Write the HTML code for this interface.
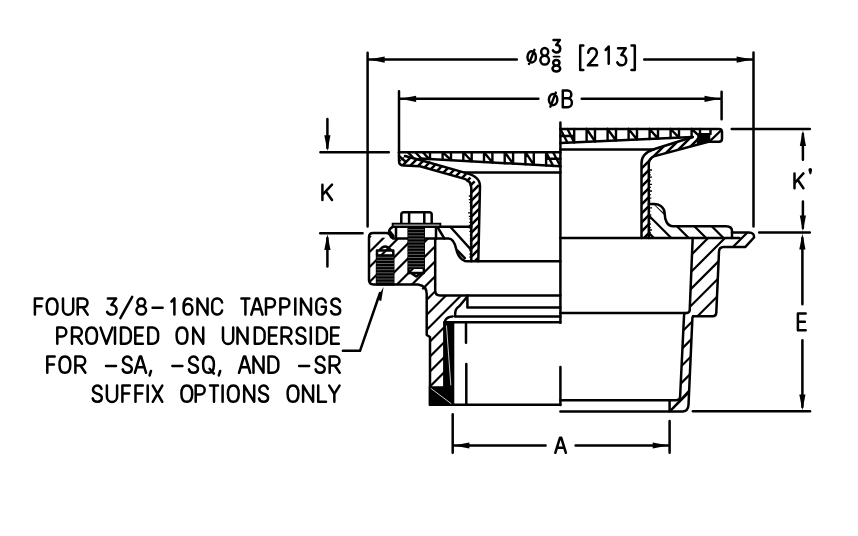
<!DOCTYPE html>
<html><head><meta charset="utf-8"><style>html,body{margin:0;padding:0;background:#fff;font-family:"Liberation Sans",sans-serif;} svg{display:block;}</style></head>
<body><svg width="858" height="536" viewBox="0 0 858 536">
<style>
path { fill:none; stroke:#000; stroke-width:2.5; stroke-linecap:round; stroke-linejoin:round; vector-effect:non-scaling-stroke; }
.f { fill:#000; stroke:none; }
rect.f { fill:#000; }
</style>
<defs><clipPath id="c1"><path d="M369 236 L393 238.7 L435.2 238.7 L435.2 290.5 L440 295.5 L467.4 296.5 L459.5 306 L455 310 L455 316.5 L447 318 L444.3 322.2 L444.3 387.4 L430 387.4 L430 337 L426.7 335 L426.7 294 L418 284.4 L373.5 284.4 L369 281 Z"/></clipPath><clipPath id="c2"><path d="M692.7 237.9 L732 237.9 L732 232.6 L748.8 232.6 L754.5 236 L745.4 246.9 L723.6 246.9 L719 251.8 L716.3 312.5 L712.5 316.2 L693.1 316.2 L692.4 318 L688.5 405 L683 411.4 L669.6 411.4 L669.6 400.2 L676 400.2 L680.1 397 L684 316 L689.7 310.5 Z"/></clipPath><clipPath id="c3"><path d="M648.8 203.9 L654 203.9 L664.7 213.7 L667.5 222 L673 226.2 L726 226.2 L732 231 L732 237.9 L648.8 237.9 Z"/></clipPath><clipPath id="c4"><path d="M405 156 L420 158.4 L464.6 172.6 L480 186 L478.3 261.3 L471.3 261.3 L471.3 188 L464.6 178.9 L420 166.2 L404 165.5 L399 161 Z"/></clipPath><clipPath id="c5"><path d="M692.7 137 L653.8 149.3 L641.5 163 L641.5 238 L648.8 238 L648.8 164 L653.8 156.4 L708.4 141.7 Z"/></clipPath></defs>
<rect width="858" height="536" fill="#fff"/>
<path d="M367.6 52.7 V226.6 M753.5 52.6 V226.4"/>
<path d="M369 59.6 H516.8 M644.2 59.6 H752"/>
<path class="f" d="M368.90 59.60 L384.70 56.50 L384.70 62.70 Z"/>
<path class="f" d="M752.40 59.60 L736.60 62.70 L736.60 56.50 Z"/>
<path d="M399 91.2 V152 M721.6 91.7 V119.2"/>
<path d="M400 98.8 H538.4 M581.7 98.8 H720"/>
<path class="f" d="M400.30 98.80 L416.10 95.70 L416.10 101.90 Z"/>
<path class="f" d="M720.30 98.80 L704.50 101.90 L704.50 95.70 Z"/>
<path d="M320.4 152.2 H388.8 M320.2 233.2 H362.6"/>
<path d="M327.4 119 V148 M327.4 238 V266.6"/>
<path class="f" d="M327.40 151.10 L324.30 135.30 L330.50 135.30 Z"/>
<path class="f" d="M327.40 234.30 L330.50 250.10 L324.30 250.10 Z"/>
<path d="M731.7 129.1 H809.8 M759.1 232.6 H809.8"/>
<path d="M802.9 134 V159.8 M802.9 201.4 V228"/>
<path class="f" d="M802.90 130.20 L806.00 146.00 L799.80 146.00 Z"/>
<path class="f" d="M802.90 231.30 L799.80 215.50 L806.00 215.50 Z"/>
<path d="M802.4 238 V304.3 M802.4 340.2 V407"/>
<path class="f" d="M802.40 233.60 L805.50 249.40 L799.30 249.40 Z"/>
<path class="f" d="M802.40 410.30 L799.30 394.50 L805.50 394.50 Z"/>
<path d="M692.9 411.3 H810"/>
<path d="M452.7 414.2 V452.8 M669.6 421 V452.8"/>
<path d="M454 445.5 H545.6 M575.6 445.5 H668"/>
<path class="f" d="M453.60 445.50 L469.40 442.40 L469.40 448.60 Z"/>
<path class="f" d="M668.50 445.50 L652.70 448.60 L652.70 442.40 Z"/>
<path d="M342.9 350.8 H360 L380 293"/>
<path class="f" d="M383.60 286.90 L381.21 300.92 L376.51 299.23 Z"/>
<path transform="translate(34.90 298.40) scale(1.0 1.0125)" d="M7.4 0 H0 V16 M0 7.8 H6.6"/>
<path transform="translate(46.70 298.40) scale(1.0 1.0125)" d="M5.4 0 C8.9 0 10.8 3.3 10.8 8 C10.8 12.7 8.9 16 5.4 16 C1.9 16 0 12.7 0 8 C0 3.3 1.9 0 5.4 0 Z"/>
<path transform="translate(63.00 298.40) scale(1.0 1.0125)" d="M0 0 V11 A5.1 5.1 0 0 0 10.2 11 V0"/>
<path transform="translate(77.70 298.40) scale(1.0 1.0125)" d="M0 16 V0 H5.4 A4.4 4.4 0 0 1 5.4 8.8 H0 M5 8.8 L10 16"/>
<path transform="translate(107.10 298.40) scale(1.0 1.0125)" d="M0.8 0 H9 L4.3 6.4 C7.6 6.4 9.5 8.5 9.5 11.2 C9.5 14.1 7.4 16 4.7 16 C2.5 16 0.8 15 0 13.3"/>
<path transform="translate(120.40 298.40) scale(1.0 1.0125)" d="M0 19.5 L11.8 -1.5"/>
<path transform="translate(136.50 298.40) scale(1.0 1.0125)" d="M4.8 7.6 A3.9 3.8 0 1 1 4.8 0 A3.9 3.8 0 1 1 4.8 7.6 A4.8 4.2 0 1 0 4.8 16 A4.8 4.2 0 1 0 4.8 7.6 Z"/>
<path transform="translate(152.60 298.40) scale(1.0 1.0125)" d="M0 9.3 H10"/>
<path transform="translate(171.40 298.40) scale(1.0 1.0125)" d="M0 3.2 L3 0 V16"/>
<path transform="translate(183.60 298.40) scale(1.0 1.0125)" d="M8 1.6 C7.2 0.5 6 0 4.6 0 C1.6 0 0 3.3 0 8.2 V11 A4.4 5 0 0 0 8.8 11 V10.6 A4.4 5 0 0 0 0 10.6"/>
<path transform="translate(197.50 298.40) scale(1.0 1.0125)" d="M0 16 V0 L10 16 V0"/>
<path transform="translate(212.20 298.40) scale(1.0 1.0125)" d="M9.9 4.1 A5 5 0 0 0 0 5 V11 A5 5 0 0 0 9.9 11.9"/>
<path transform="translate(241.40 298.40) scale(1.0 1.0125)" d="M0 0 H8 M4 0 V16"/>
<path transform="translate(251.30 298.40) scale(1.0 1.0125)" d="M0 16 L4.9 0 H6.3 L11.2 16 M1.9 10.6 H9.3"/>
<path transform="translate(266.00 298.40) scale(1.0 1.0125)" d="M0 16 V0 H4.6 A4.4 4.4 0 0 1 4.6 8.8 H0"/>
<path transform="translate(280.40 298.40) scale(1.0 1.0125)" d="M0 16 V0 H4.6 A4.4 4.4 0 0 1 4.6 8.8 H0"/>
<path transform="translate(295.30 298.40) scale(1.0 1.0125)" d="M0 0 V16"/>
<path transform="translate(301.00 298.40) scale(1.0 1.0125)" d="M0 16 V0 L10 16 V0"/>
<path transform="translate(316.30 298.40) scale(1.0 1.0125)" d="M9.4 4.1 A4.75 5 0 0 0 0 5 V11 A4.75 5 0 0 0 9.5 11 V8.3 H5.4"/>
<path transform="translate(331.00 298.40) scale(1.0 1.0125)" d="M8.9 3.2 C8.1 1.1 6.5 0 4.6 0 C2.1 0 0.4 1.7 0.4 4.1 C0.4 6.6 2.4 7.4 4.7 8 C7.2 8.6 9.2 9.6 9.2 12 C9.2 14.5 7.2 16 4.6 16 C2.5 16 0.7 14.9 0.1 12.6"/>
<path transform="translate(57.30 327.60) scale(1.0 1.0125)" d="M0 16 V0 H4.6 A4.4 4.4 0 0 1 4.6 8.8 H0"/>
<path transform="translate(72.00 327.60) scale(1.0 1.0125)" d="M0 16 V0 H5.4 A4.4 4.4 0 0 1 5.4 8.8 H0 M5 8.8 L10 16"/>
<path transform="translate(86.20 327.60) scale(1.0 1.0125)" d="M5.4 0 C8.9 0 10.8 3.3 10.8 8 C10.8 12.7 8.9 16 5.4 16 C1.9 16 0 12.7 0 8 C0 3.3 1.9 0 5.4 0 Z"/>
<path transform="translate(100.50 327.60) scale(1.0 1.0125)" d="M0 0 L5.95 16 L11.9 0"/>
<path transform="translate(115.00 327.60) scale(1.0 1.0125)" d="M0 0 V16"/>
<path transform="translate(121.00 327.60) scale(1.0 1.0125)" d="M0 0 H4 A5.8 5.8 0 0 1 9.8 5.8 V10.2 A5.8 5.8 0 0 1 4 16 H0 Z"/>
<path transform="translate(135.30 327.60) scale(1.0 1.0125)" d="M7.6 0 H0 V16 H7.6 M0 7.8 H6.8"/>
<path transform="translate(148.30 327.60) scale(1.0 1.0125)" d="M0 0 H4 A5.8 5.8 0 0 1 9.8 5.8 V10.2 A5.8 5.8 0 0 1 4 16 H0 Z"/>
<path transform="translate(176.60 327.60) scale(1.0 1.0125)" d="M5.4 0 C8.9 0 10.8 3.3 10.8 8 C10.8 12.7 8.9 16 5.4 16 C1.9 16 0 12.7 0 8 C0 3.3 1.9 0 5.4 0 Z"/>
<path transform="translate(193.20 327.60) scale(1.0 1.0125)" d="M0 16 V0 L10 16 V0"/>
<path transform="translate(223.00 327.60) scale(1.0 1.0125)" d="M0 0 V11 A5.1 5.1 0 0 0 10.2 11 V0"/>
<path transform="translate(237.50 327.60) scale(1.0 1.0125)" d="M0 16 V0 L10 16 V0"/>
<path transform="translate(254.80 327.60) scale(1.0 1.0125)" d="M0 0 H4 A5.8 5.8 0 0 1 9.8 5.8 V10.2 A5.8 5.8 0 0 1 4 16 H0 Z"/>
<path transform="translate(269.10 327.60) scale(1.0 1.0125)" d="M7.6 0 H0 V16 H7.6 M0 7.8 H6.8"/>
<path transform="translate(281.60 327.60) scale(1.0 1.0125)" d="M0 16 V0 H5.4 A4.4 4.4 0 0 1 5.4 8.8 H0 M5 8.8 L10 16"/>
<path transform="translate(296.30 327.60) scale(1.0 1.0125)" d="M8.9 3.2 C8.1 1.1 6.5 0 4.6 0 C2.1 0 0.4 1.7 0.4 4.1 C0.4 6.6 2.4 7.4 4.7 8 C7.2 8.6 9.2 9.6 9.2 12 C9.2 14.5 7.2 16 4.6 16 C2.5 16 0.7 14.9 0.1 12.6"/>
<path transform="translate(310.80 327.60) scale(1.0 1.0125)" d="M0 0 V16"/>
<path transform="translate(317.10 327.60) scale(1.0 1.0125)" d="M0 0 H4 A5.8 5.8 0 0 1 9.8 5.8 V10.2 A5.8 5.8 0 0 1 4 16 H0 Z"/>
<path transform="translate(331.20 327.60) scale(1.0 1.0125)" d="M7.6 0 H0 V16 H7.6 M0 7.8 H6.8"/>
<path transform="translate(47.30 356.60) scale(1.0 1.0125)" d="M7.4 0 H0 V16 M0 7.8 H6.6"/>
<path transform="translate(59.50 356.60) scale(1.0 1.0125)" d="M5.4 0 C8.9 0 10.8 3.3 10.8 8 C10.8 12.7 8.9 16 5.4 16 C1.9 16 0 12.7 0 8 C0 3.3 1.9 0 5.4 0 Z"/>
<path transform="translate(75.40 356.60) scale(1.0 1.0125)" d="M0 16 V0 H5.4 A4.4 4.4 0 0 1 5.4 8.8 H0 M5 8.8 L10 16"/>
<path transform="translate(106.00 356.60) scale(1.0 1.0125)" d="M0 9.3 H10"/>
<path transform="translate(122.60 356.60) scale(1.0 1.0125)" d="M8.9 3.2 C8.1 1.1 6.5 0 4.6 0 C2.1 0 0.4 1.7 0.4 4.1 C0.4 6.6 2.4 7.4 4.7 8 C7.2 8.6 9.2 9.6 9.2 12 C9.2 14.5 7.2 16 4.6 16 C2.5 16 0.7 14.9 0.1 12.6"/>
<path transform="translate(134.90 356.60) scale(1.0 1.0125)" d="M0 16 L4.9 0 H6.3 L11.2 16 M1.9 10.6 H9.3"/>
<path transform="translate(149.60 356.60) scale(1.0 1.0125)" d="M1.4 14.2 L0 18.6"/>
<path transform="translate(172.40 356.60) scale(1.0 1.0125)" d="M0 9.3 H10"/>
<path transform="translate(188.80 356.60) scale(1.0 1.0125)" d="M8.9 3.2 C8.1 1.1 6.5 0 4.6 0 C2.1 0 0.4 1.7 0.4 4.1 C0.4 6.6 2.4 7.4 4.7 8 C7.2 8.6 9.2 9.6 9.2 12 C9.2 14.5 7.2 16 4.6 16 C2.5 16 0.7 14.9 0.1 12.6"/>
<path transform="translate(203.10 356.60) scale(1.0 1.0125)" d="M5.4 0 C8.9 0 10.8 3.3 10.8 8 C10.8 12.7 8.9 16 5.4 16 C1.9 16 0 12.7 0 8 C0 3.3 1.9 0 5.4 0 Z M6.5 12 L10.8 16.8"/>
<path transform="translate(218.80 356.60) scale(1.0 1.0125)" d="M1.4 14.2 L0 18.6"/>
<path transform="translate(239.00 356.60) scale(1.0 1.0125)" d="M0 16 L4.9 0 H6.3 L11.2 16 M1.9 10.6 H9.3"/>
<path transform="translate(253.50 356.60) scale(1.0 1.0125)" d="M0 16 V0 L10 16 V0"/>
<path transform="translate(268.50 356.60) scale(1.0 1.0125)" d="M0 0 H4 A5.8 5.8 0 0 1 9.8 5.8 V10.2 A5.8 5.8 0 0 1 4 16 H0 Z"/>
<path transform="translate(299.10 356.60) scale(1.0 1.0125)" d="M0 9.3 H10"/>
<path transform="translate(315.50 356.60) scale(1.0 1.0125)" d="M8.9 3.2 C8.1 1.1 6.5 0 4.6 0 C2.1 0 0.4 1.7 0.4 4.1 C0.4 6.6 2.4 7.4 4.7 8 C7.2 8.6 9.2 9.6 9.2 12 C9.2 14.5 7.2 16 4.6 16 C2.5 16 0.7 14.9 0.1 12.6"/>
<path transform="translate(329.70 356.60) scale(1.0 1.0125)" d="M0 16 V0 H5.4 A4.4 4.4 0 0 1 5.4 8.8 H0 M5 8.8 L10 16"/>
<path transform="translate(92.60 385.60) scale(1.0 1.0125)" d="M8.9 3.2 C8.1 1.1 6.5 0 4.6 0 C2.1 0 0.4 1.7 0.4 4.1 C0.4 6.6 2.4 7.4 4.7 8 C7.2 8.6 9.2 9.6 9.2 12 C9.2 14.5 7.2 16 4.6 16 C2.5 16 0.7 14.9 0.1 12.6"/>
<path transform="translate(106.90 385.60) scale(1.0 1.0125)" d="M0 0 V11 A5.1 5.1 0 0 0 10.2 11 V0"/>
<path transform="translate(122.40 385.60) scale(1.0 1.0125)" d="M7.4 0 H0 V16 M0 7.8 H6.6"/>
<path transform="translate(135.50 385.60) scale(1.0 1.0125)" d="M7.4 0 H0 V16 M0 7.8 H6.6"/>
<path transform="translate(147.70 385.60) scale(1.0 1.0125)" d="M0 0 V16"/>
<path transform="translate(152.80 385.60) scale(1.0 1.0125)" d="M0 0 L9.5 16 M9.5 0 L0 16"/>
<path transform="translate(181.40 385.60) scale(1.0 1.0125)" d="M5.4 0 C8.9 0 10.8 3.3 10.8 8 C10.8 12.7 8.9 16 5.4 16 C1.9 16 0 12.7 0 8 C0 3.3 1.9 0 5.4 0 Z"/>
<path transform="translate(195.70 385.60) scale(1.0 1.0125)" d="M0 16 V0 H4.6 A4.4 4.4 0 0 1 4.6 8.8 H0"/>
<path transform="translate(210.00 385.60) scale(1.0 1.0125)" d="M0 0 H8 M4 0 V16"/>
<path transform="translate(222.60 385.60) scale(1.0 1.0125)" d="M0 0 V16"/>
<path transform="translate(227.90 385.60) scale(1.0 1.0125)" d="M5.4 0 C8.9 0 10.8 3.3 10.8 8 C10.8 12.7 8.9 16 5.4 16 C1.9 16 0 12.7 0 8 C0 3.3 1.9 0 5.4 0 Z"/>
<path transform="translate(244.20 385.60) scale(1.0 1.0125)" d="M0 16 V0 L10 16 V0"/>
<path transform="translate(258.90 385.60) scale(1.0 1.0125)" d="M8.9 3.2 C8.1 1.1 6.5 0 4.6 0 C2.1 0 0.4 1.7 0.4 4.1 C0.4 6.6 2.4 7.4 4.7 8 C7.2 8.6 9.2 9.6 9.2 12 C9.2 14.5 7.2 16 4.6 16 C2.5 16 0.7 14.9 0.1 12.6"/>
<path transform="translate(287.60 385.60) scale(1.0 1.0125)" d="M5.4 0 C8.9 0 10.8 3.3 10.8 8 C10.8 12.7 8.9 16 5.4 16 C1.9 16 0 12.7 0 8 C0 3.3 1.9 0 5.4 0 Z"/>
<path transform="translate(303.10 385.60) scale(1.0 1.0125)" d="M0 16 V0 L10 16 V0"/>
<path transform="translate(318.20 385.60) scale(1.0 1.0125)" d="M0 0 V16 H7.8"/>
<path transform="translate(329.20 385.60) scale(1.0 1.0125)" d="M0 0 L5.15 8.2 L10.3 0 M5.15 8.2 V16"/>
<path transform="translate(322.40 184.70) scale(1.0 0.95)" d="M0 0 V16 M9.6 0 L0 10.6 M3.4 6.9 L9.6 16"/>
<path transform="translate(794.50 173.40) scale(0.9270833333333334 0.93125)" d="M0 0 V16 M9.6 0 L0 10.6 M3.4 6.9 L9.6 16"/>
<path class="f" d="M808.4 169.9 A1.85 1.85 0 1 1 812.1 169.9 L811.4 173.6 Q810.6 175 809.6 173.9 Z"/>
<path transform="translate(797.90 313.40) scale(1.0263157894736843 1.05625)" d="M7.6 0 H0 V16 H7.6 M0 7.8 H6.8"/>
<path transform="translate(555.30 437.80) scale(0.9464285714285715 0.9375)" d="M0 16 L4.9 0 H6.3 L11.2 16 M1.9 10.6 H9.3"/>
<path transform="translate(548.90 94.00) scale(1.0 1.0)" d="M4.2 0 A4.2 5.6 0 0 1 8.4 5.6 A4.2 5.6 0 0 1 4.2 11.2 A4.2 5.6 0 0 1 0 5.6 A4.2 5.6 0 0 1 4.2 0 Z M1.5 12.6 L6.9 -1.4"/>
<path transform="translate(562.80 90.60) scale(0.978723404255319 1.0375)" d="M0 16 V0 H5 A3.7 3.7 0 0 1 5 7.4 H0 M5 7.4 A4.3 4.3 0 0 1 5 16 H0"/>
<path transform="translate(527.50 51.30) scale(1.0 1.0)" d="M4.2 0 A4.2 5.6 0 0 1 8.4 5.6 A4.2 5.6 0 0 1 4.2 11.2 A4.2 5.6 0 0 1 0 5.6 A4.2 5.6 0 0 1 4.2 0 Z M1.5 12.6 L6.9 -1.4"/>
<path transform="translate(540.40 47.90) scale(0.8958333333333334 1.04375)" d="M4.8 7.6 A3.9 3.8 0 1 1 4.8 0 A3.9 3.8 0 1 1 4.8 7.6 A4.8 4.2 0 1 0 4.8 16 A4.8 4.2 0 1 0 4.8 7.6 Z"/>
<path transform="translate(552.90 40.00) scale(0.7684210526315789 0.775)" d="M0.8 0 H9 L4.3 6.4 C7.6 6.4 9.5 8.5 9.5 11.2 C9.5 14.1 7.4 16 4.7 16 C2.5 16 0.8 15 0 13.3"/>
<path style="stroke-width:1.9" d="M553.6 56.6 H559.6"/>
<path transform="translate(552.50 60.00) scale(0.8020833333333334 0.725)" d="M4.8 7.6 A3.9 3.8 0 1 1 4.8 0 A3.9 3.8 0 1 1 4.8 7.6 A4.8 4.2 0 1 0 4.8 16 A4.8 4.2 0 1 0 4.8 7.6 Z"/>
<path transform="translate(580.20 45.40) scale(1.0 1.0)" d="M3.1 0 H0 V24.7 H3.1"/>
<path transform="translate(587.90 48.20) scale(1.0 1.06875)" d="M0.3 4.2 C0.8 1.6 2.6 0 4.7 0 C7.3 0 9 1.9 9 4.5 C9 6.8 7.8 8.3 5.8 10 L0 16 H9.3"/>
<path transform="translate(605.70 46.50) scale(1.0 1.075)" d="M0 3.2 L3 0 V16"/>
<path transform="translate(617.30 48.20) scale(0.9368421052631579 1.06875)" d="M0.8 0 H9 L4.3 6.4 C7.6 6.4 9.5 8.5 9.5 11.2 C9.5 14.1 7.4 16 4.7 16 C2.5 16 0.8 15 0 13.3"/>
<path transform="translate(631.50 45.40) scale(1.0 1.0)" d="M0 0 H3.3 V24.7 H0"/>
<g clip-path="url(#c1)"><path style="stroke-width:2.2" d="M202.10 389.40 L357.50 234.00 M217.10 389.40 L372.50 234.00 M232.10 389.40 L387.50 234.00 M247.10 389.40 L402.50 234.00 M262.10 389.40 L417.50 234.00 M277.10 389.40 L432.50 234.00 M292.10 389.40 L447.50 234.00 M307.10 389.40 L462.50 234.00 M322.10 389.40 L477.50 234.00 M337.10 389.40 L492.50 234.00 M352.10 389.40 L507.50 234.00 M367.10 389.40 L522.50 234.00 M382.10 389.40 L537.50 234.00 M397.10 389.40 L552.50 234.00 M412.10 389.40 L567.50 234.00 M427.10 389.40 L582.50 234.00 M442.10 389.40 L597.50 234.00 M457.10 389.40 L612.50 234.00 M472.10 389.40 L627.50 234.00"/></g>
<g clip-path="url(#c2)"><path style="stroke-width:2.2" d="M482.00 413.40 L664.80 230.60 M498.90 413.40 L681.70 230.60 M515.80 413.40 L698.60 230.60 M532.70 413.40 L715.50 230.60 M549.60 413.40 L732.40 230.60 M566.50 413.40 L749.30 230.60 M583.40 413.40 L766.20 230.60 M600.30 413.40 L783.10 230.60 M617.20 413.40 L800.00 230.60 M634.10 413.40 L816.90 230.60 M651.00 413.40 L833.80 230.60 M667.90 413.40 L850.70 230.60 M684.80 413.40 L867.60 230.60 M701.70 413.40 L884.50 230.60 M718.60 413.40 L901.40 230.60 M735.50 413.40 L918.30 230.60 M752.40 413.40 L935.20 230.60 M769.30 413.40 L952.10 230.60"/></g>
<g clip-path="url(#c3)"><path style="stroke-width:2.2" d="M600.40 201.90 L638.40 239.90 M617.80 201.90 L655.80 239.90 M635.20 201.90 L673.20 239.90 M652.60 201.90 L690.60 239.90 M670.00 201.90 L708.00 239.90 M687.40 201.90 L725.40 239.90 M704.80 201.90 L742.80 239.90 M722.20 201.90 L760.20 239.90 M739.60 201.90 L777.60 239.90"/></g>
<path d="M437.7 227.5 L444.3 238.4 M450.5 227 L470.8 249.5 M457.5 250.7 L464.8 258.1"/>
<g clip-path="url(#c4)"><path style="stroke-width:2.5" d="M288.70 263.30 L398.00 154.00 M296.70 263.30 L406.00 154.00 M304.70 263.30 L414.00 154.00 M312.70 263.30 L422.00 154.00 M320.70 263.30 L430.00 154.00 M328.70 263.30 L438.00 154.00 M336.70 263.30 L446.00 154.00 M344.70 263.30 L454.00 154.00 M352.70 263.30 L462.00 154.00 M360.70 263.30 L470.00 154.00 M368.70 263.30 L478.00 154.00 M376.70 263.30 L486.00 154.00 M384.70 263.30 L494.00 154.00 M392.70 263.30 L502.00 154.00 M400.70 263.30 L510.00 154.00 M408.70 263.30 L518.00 154.00 M416.70 263.30 L526.00 154.00 M424.70 263.30 L534.00 154.00 M432.70 263.30 L542.00 154.00 M440.70 263.30 L550.00 154.00 M448.70 263.30 L558.00 154.00 M456.70 263.30 L566.00 154.00 M464.70 263.30 L574.00 154.00 M472.70 263.30 L582.00 154.00 M480.70 263.30 L590.00 154.00"/></g>
<g clip-path="url(#c5)"><path style="stroke-width:2.5" d="M534.00 240.00 L639.00 135.00 M543.00 240.00 L648.00 135.00 M552.00 240.00 L657.00 135.00 M561.00 240.00 L666.00 135.00 M570.00 240.00 L675.00 135.00 M579.00 240.00 L684.00 135.00 M588.00 240.00 L693.00 135.00 M597.00 240.00 L702.00 135.00 M606.00 240.00 L711.00 135.00 M615.00 240.00 L720.00 135.00 M624.00 240.00 L729.00 135.00 M633.00 240.00 L738.00 135.00 M642.00 240.00 L747.00 135.00 M651.00 240.00 L756.00 135.00 M660.00 240.00 L765.00 135.00 M669.00 240.00 L774.00 135.00 M678.00 240.00 L783.00 135.00 M687.00 240.00 L792.00 135.00 M696.00 240.00 L801.00 135.00 M705.00 240.00 L810.00 135.00 M714.00 240.00 L819.00 135.00"/></g>
<path style="stroke-width:2.4" d="M407.8 152.2 L413.5 158.0 M415.4 152.2 L421.2 158.5 M423 152.2 L428.8 158.9 M430 152.2 V159.0 M399 156 L406 162 M442.6 152.2 V159.7 M451.0 152.2 V160.1 M442.6 152.2 L451.0 160.1 M463.3 152.2 V160.8 M471.7 152.2 V161.3 M463.3 152.2 L471.7 161.3 M484.0 152.2 V162.0 M492.4 152.2 V162.5 M484.0 152.2 L492.4 162.5 M504.7 152.2 V163.2 M513.1 152.2 V163.6 M504.7 152.2 L513.1 163.6 M525.4 152.2 V164.3 M533.8 152.2 V164.8 M525.4 152.2 L533.8 164.8 M546.1 152.2 V165.5 M546.1 152.2 L553.1 165.9 M553.1 152.2 L560.4 166.3 M546.1 158.8 H560.4 M574.2 129 V142.4 M560.4 129 L567.5 142.7 M567.5 129 L574.2 142.4 M560.4 136 H574.2 M586.6 129 V141.8 M595.0 129 V141.4 M586.6 129 L595.0 141.4 M607.6 129 V140.9 M616.0 129 V140.5 M607.6 129 L616.0 140.5 M628.6 129 V139.9 M637.0 129 V139.5 M628.6 129 L637.0 139.5 M649.6 129 V139.0 M658.0 129 V138.6 M649.6 129 L658.0 138.6 M670.6 129 V138.0 M679.0 129 V137.6 M670.6 129 L679.0 137.6 M691.6 129 V137.0 M700.0 129 V136.7 M691.6 129 L700.0 136.7 M709.5 141.5 L721 130.5 M710.5 129.5 V134"/>
<path class="f" d="M698.5 133 H710 L710.5 141.7 L697 145 L696.5 139 Z"/>
<path style="stroke-width:1.3;stroke-linecap:butt" d="M468.8 196.0 H471.3 M468.8 199.6 H471.3 M469.3 202.6 H471.3 M469.8 206.2 H471.3 M469.8 209.8 H471.3 M468.1 212.8 H471.3 M468.8 216.4 H471.3 M469.3 218.8 H471.3 M469.3 222.4 H471.3 M468.8 225.4 H471.3 M468.8 227.8 H471.3 M469.3 231.4 H471.3 M469.8 235.0 H471.3 M469.8 238.6 H471.3 M469.8 241.0 H471.3 M469.8 244.0 H471.3 M469.3 247.0 H471.3 M469.3 250.6 H471.3 M469.3 254.2 H471.3 M469.3 257.2 H471.3 M648.8 170.0 H652.0 M648.8 172.4 H650.3 M648.8 174.8 H650.8 M648.8 177.2 H652.0 M648.8 180.8 H650.8 M648.8 184.4 H652.0 M648.8 187.4 H650.8 M648.8 191.0 H652.0 M648.8 194.6 H650.8 M648.8 198.2 H651.3 M648.8 201.2 H650.3 M648.8 204.2 H651.3 M648.8 207.8 H652.0 M648.8 211.4 H650.3 M648.8 215.0 H651.3 M648.8 218.6 H652.0 M648.8 221.6 H650.3 M648.8 224.0 H650.8 M648.8 227.6 H650.8 M648.8 230.0 H652.0 M648.8 232.4 H650.8 M648.8 234.8 H650.3"/>
<path d="M560.4 122.4 V322.8 M560.4 366.9 V405"/>
<path d="M399 152.2 H560.4"/>
<path d="M399 152.2 V161 Q399 165.5 404 165.5 L420 166.2 L464.6 178.9 Q471.3 181 471.3 188 V261.3"/>
<path d="M420 158.4 L560.4 166.3"/>
<path d="M405 156 L420 160 L464.6 172.6 Q480 176 480 186 L478.3 261.3"/>
<path d="M464.6 172.6 H560.4"/>
<path d="M560.4 129 H719 Q722 129 722 132 V138.7 Q722 141.7 719 141.7 H708.4"/>
<path d="M560.4 143 L692.7 137"/>
<path d="M692.7 137 L653.8 149.3 Q641.5 153.5 641.5 163 V238"/>
<path d="M708.4 141.7 L653.8 156.4 Q648.8 158.5 648.8 164 V238"/>
<path d="M560.4 149.6 H653.8"/>
<path d="M560.4 237.9 H739.5"/>
<path d="M648.8 203.9 H654 C660 203.9 664.7 208 664.7 213.7 C664.7 220.5 667.5 226.2 673 226.2 H726 Q732 226.2 732 231 V237.9"/>
<path d="M732 232.6 H748.8 Q754.5 232.6 754 237.5 L745.4 246.9 H723.6 Q719 247 719 251.8 L716.3 312.5 Q716.3 316.2 712.5 316.2 H693.1"/>
<path d="M692.7 237.9 L689.7 310.5 Q689.3 313.1 685 313.1 H560.4"/>
<path d="M685 313.1 Q684 314 684 316 L680.1 397 Q679.8 400.2 676 400.2 H560.4 M693.1 316.2 Q692.4 317 692.4 318 L688.5 405 Q688 411.2 683 411.4 H560.4 M669.6 400.2 V411.4"/>
<path style="stroke-width:2" d="M669.6 411.4 L688.3 391.5"/>
<path d="M392.5 237.5 Q390 233 386 233 H373.2 Q369 233 369 237.2 V280 Q369 284.4 373.5 284.4 H418 Q426.7 285.5 426.7 294 V335 L430 337 V404.7 H560.4"/>
<path d="M435.2 238.7 V290.5 Q435.2 295.5 440 295.5 H560.4"/>
<path d="M467.4 295.5 V307.6 H560.4 M467.4 296.5 L459.5 306 Q457 307.6 456 309.5 Q455 311.5 455 316.5 H560.4 M452.5 316.5 Q447 317 445.5 320 Q444.5 322 444.3 322.2 H560.4"/>
<path d="M466 322.5 V342.7 M466.3 364 V404.7"/>
<path d="M392.9 226.8 H471.3"/>
<path d="M393 238.5 H448.4 C451.5 238.5 454.5 241 456.2 249.1 C457.5 255 460 259 464.8 260.9 L467.5 261.3 H560.4"/>
<path d="M396 226.8 V238.7 M436 226.8 V238.7"/>
<path d="M392.9 226.8 Q386 230 391.5 237.5 M389.5 231 L393.5 236"/>
<path class="f" d="M443.1 322.2 H454.3 V405.9 H428.8 V386.2 H443.1 Z"/>
<path style="stroke:#fff;stroke-width:0.8" d="M431 388.5 L451 403.5 M446.5 326 L450.8 385"/>
<path d="M401.3 223.9 V214.8 Q401.3 212.3 403.8 212.3 H429.2 Q431.7 212.3 431.7 214.8 V223.9 M409.1 212.3 V223.9 M424.3 212.3 V223.9"/>
<path class="f" d="M391.7 222.7 H441.3 V227.9 H391.7 Z"/>
<path style="stroke:#fff;stroke-width:0.9" d="M394 225.1 H439"/>
<path class="f" d="M407.4 226.5 H425 V269 H407.4 Z" style="fill:#000"/>
<path style="stroke:#fff;stroke-width:0.5;stroke-opacity:0.75" d="M408.6 229.6 H423.8 M408.6 232.7 H423.8 M408.6 235.8 H423.8 M408.6 238.9 H423.8 M408.6 242.0 H423.8 M408.6 245.1 H423.8 M408.6 248.2 H423.8 M408.6 251.3 H423.8 M408.6 254.4 H423.8 M408.6 257.5 H423.8 M408.6 260.6 H423.8 M408.6 263.7 H423.8 M408.6 266.8 H423.8"/>
<path d="M408.6 269.2 V272.9 H423.8 V269.2 M411 273 L416.2 276.5 L421.5 273"/>
<path class="f" d="M375.8 254.2 H394.5 V285.5 H375.8 Z" style="fill:#000"/>
<path style="stroke:#fff;stroke-width:0.5;stroke-opacity:0.75" d="M377 257.3 H393.3 M377 260.4 H393.3 M377 263.5 H393.3 M377 266.6 H393.3 M377 269.7 H393.3 M377 272.8 H393.3 M377 275.9 H393.3 M377 279.0 H393.3 M377 282.1 H393.3"/>
<path d="M377 254.7 V250.5 H393.3 V254.7 M379.5 250.3 Q385.2 242.5 391 250.3"/>
</svg></body></html>
